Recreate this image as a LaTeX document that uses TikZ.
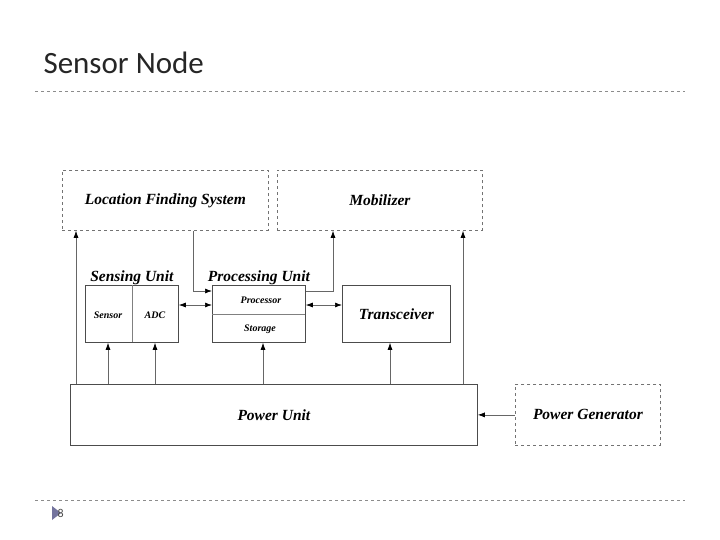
\documentclass[tikz,border=0pt]{standalone}
\usepackage{fontspec}
\setmainfont{Liberation Serif}
\newfontfamily\slidefont{Carlito}
\usetikzlibrary{positioning,arrows.meta}
\tikzset{
  box/.style={draw=black!70, line width=0.8pt, inner sep=0pt, anchor=north west},
  dbox/.style={box, dashed, draw=black!55},
  lbl/.style={font=\bfseries\itshape\fontsize{15.5}{18}\selectfont},
  slbl/.style={font=\bfseries\itshape\fontsize{10}{12}\selectfont},
  wire/.style={draw=black!60, line width=0.7pt, -{Latex[length=7pt,width=5pt,black]}},
}
\begin{document}
\begin{tikzpicture}[x=1pt,y=-1pt]
 	\useasboundingbox (0,0) rectangle (720,540);
 	% slide frame
 	\node [anchor=west, font=\slidefont\fontsize{31}{36}\selectfont, text=black!85] (title) at (40,63) {Sensor Node};
 	\draw [black!45, dashed, line width=0.5pt] (35,91) -- (685,91);
 	\draw [black!45, dashed, line width=0.5pt] (35,500) -- (685,500);
 	\fill [blue!30!black!55] (52,506) -- (61,513) -- (52,520) -- cycle;
 	\node [anchor=west, font=\slidefont\fontsize{12}{14}\selectfont, text=black!70] (pagenum) at (54,513) {8};
 	% blocks
 	\node [dbox, minimum width=206, minimum height=60] (lfs) at (62,170) {};
 	\node [lbl] at (lfs.center) {Location Finding System};
 	\node [dbox, minimum width=205, minimum height=60] (mob) at (277,170) {};
 	\node [lbl] at (mob.center) {Mobilizer};
 	\node [box, minimum width=93, minimum height=57] (sense) at (85,285) {};
 	\draw [black!50] (132,285) -- (132,342);
 	\node [slbl] at (108,315) {Sensor};
 	\node [slbl] at (155,315) {ADC};
 	\node [lbl, above=3 of sense.north] (senselbl) {Sensing Unit};
 	\node [box, minimum width=93, minimum height=57] (proc) at (212,285) {};
 	\draw [black!50] (212,314) -- (305,314);
 	\node [slbl] at (261,300) {Processor};
 	\node [slbl] at (260,329) {Storage};
 	\node [lbl, above=3 of proc.north] (proclbl) {Processing Unit};
 	\node [box, minimum width=108, minimum height=57] (trx) at (342,285) {};
 	\node [lbl] at (trx.center) {Transceiver};
 	\node [box, minimum width=407, minimum height=61] (pwr) at (70,384) {};
 	\node [lbl] at (pwr.center) {Power Unit};
 	\node [dbox, minimum width=145, minimum height=61] (gen) at (515,384) {};
 	\node [lbl] at (gen.center) {Power Generator};
 	% connectors
 	\draw [wire] (pwr.north west -| 76,0) -- (lfs.south west -| 76,0);
 	\draw [wire] (pwr.north west -| 463,0) -- (mob.south west -| 463,0);
 	\foreach \xx/\dest in {108/sense, 155/sense, 263/proc, 390/trx}
 	  \draw [wire] (pwr.north west -| \xx,0) -- (\dest.south west -| \xx,0);
 	\draw [wire] (gen.west) -- (pwr.east);
 	\draw [wire] (lfs.south west -| 193,0) |- (proc.north west |- 0,291);
 	\draw [wire] (proc.north east |- 0,291) -| (mob.south west -| 333,0);
 	\draw [wire, {Latex[length=7pt,width=5pt,black]}-{Latex[length=7pt,width=5pt,black]}] (sense.north east |- 0,305) -- (proc.north west |- 0,305);
 	\draw [wire, {Latex[length=7pt,width=5pt,black]}-{Latex[length=7pt,width=5pt,black]}] (proc.north east |- 0,305) -- (trx.north west |- 0,305);
\end{tikzpicture}
\end{document}
